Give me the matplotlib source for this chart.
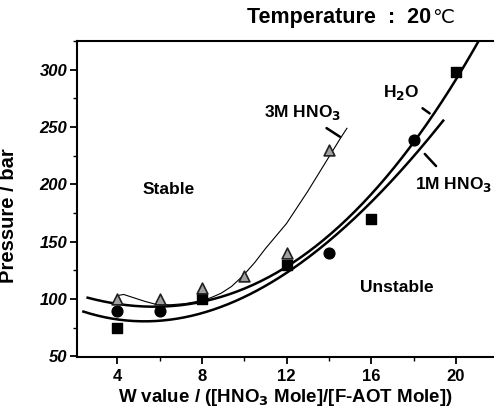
import numpy as np
import matplotlib
matplotlib.use("Agg")
import matplotlib.pyplot as plt
from matplotlib.ticker import MultipleLocator

plt.rcParams['font.family'] = ['Liberation Sans', 'DejaVu Sans']
plt.rcParams['mathtext.default'] = 'bf'

# measured data
w_h2o = [4, 8, 12, 16, 20]
p_h2o = [75, 100, 130, 170, 298]
w_1m = [4, 6, 14, 18]
p_1m = [90, 90, 140, 239]
w_3m = [4, 6, 8, 10, 12, 14]
p_3m = [100, 100, 110, 120, 140, 230]

# curves
cx_h2o = [2.6, 4, 6, 8, 10, 12, 14, 15.2, 18, 20, 21.1]
cy_h2o = [101, 96, 93, 98, 110, 128, 155, 174, 239, 292, 325]
cx_1m = [2.4, 4, 5.5, 8, 10, 12, 14, 15.2, 18, 19.4]
cy_1m = [89, 82, 80.5, 89, 102, 122, 148, 172, 227, 254]
cx_3m = [4, 4.3, 4.8, 5.3, 5.8, 6.5, 7.2, 7.8, 8.4, 8.9, 9.4, 9.95, 10.5, 11, 11.5, 12, 12.5, 13, 13.5, 14, 14.5, 14.85]
cy_3m = [103, 104, 101, 98, 95.5, 95, 96, 98, 101, 105, 111, 120.5, 132, 144, 155, 166, 180, 194, 209, 224, 239, 249]

fig = plt.figure(figsize=(4.94, 4.16), dpi=100)
ax = fig.add_axes([0.156, 0.142, 0.844, 0.759])

for cx, cy in [(cx_h2o, cy_h2o), (cx_1m, cy_1m)]:
    c = np.polyfit(cx, cy, 3)
    xs = np.linspace(min(cx), max(cx), 200)
    ax.plot(xs, np.polyval(c, xs), color='black', lw=1.8)
ax.plot(cx_3m, cy_3m, color='black', lw=0.8)

ax.scatter(w_h2o, p_h2o, marker='s', s=55, color='black', zorder=3)
ax.scatter(w_1m, p_1m, marker='o', s=60, color='black', zorder=3)
ax.scatter(w_3m, p_3m, marker='^', s=60, facecolor='#a0a0a0', edgecolor='#202020', lw=1.2, zorder=4)

ax.set_xlim(2.1, 21.8)
ax.set_ylim(49.5, 325)
ax.xaxis.set_major_locator(MultipleLocator(4))
ax.xaxis.set_minor_locator(MultipleLocator(2))
ax.yaxis.set_major_locator(MultipleLocator(50))
ax.yaxis.set_minor_locator(MultipleLocator(25))
ax.set_xticks([4, 8, 12, 16, 20])
ax.tick_params(which='major', direction='out', length=5, width=1.3)
ax.tick_params(which='minor', direction='out', length=3, width=1.0)
ax.tick_params(axis='x', labelsize=12, pad=4)
ax.tick_params(axis='y', labelsize=12, pad=2)
for lab in ax.get_xticklabels():
    lab.set_fontweight('bold')
for lab in ax.get_yticklabels():
    lab.set_fontweight('bold')
    lab.set_fontstyle('italic')
ax.spines['right'].set_visible(False)
for s in ['left', 'bottom', 'top']:
    ax.spines[s].set_linewidth(1.5)

ax.set_xlabel('W value / ([HNO$_\\mathbf{3}$ Mole]/[F-AOT Mole])', fontsize=13.5, fontweight='bold', labelpad=2)
ax.set_ylabel('Pressure / bar', fontsize=14.5, fontweight='bold')
ax.yaxis.set_label_coords(-0.141, 0.446)

ax.text(6.43, 195.5, 'Stable', fontsize=12.5, fontweight='bold', ha='center', va='center')
ax.text(17.19, 110, 'Unstable', fontsize=12.5, fontweight='bold', ha='center', va='center')
ax.annotate('3M HNO$_3$', xy=(14.52, 241.6), xytext=(12.77, 262.5), fontsize=12.5, fontweight='bold',
            ha='center', va='center', arrowprops=dict(arrowstyle='-', lw=1.8, color='black', shrinkA=4, shrinkB=0))
ax.annotate('H$_2$O', xy=(18.76, 262), xytext=(17.4, 280), fontsize=12.5, fontweight='bold',
            ha='center', va='center', arrowprops=dict(arrowstyle='-', lw=1.8, color='black', shrinkA=4, shrinkB=0))
ax.annotate('1M HNO$_3$', xy=(18.53, 226.6), xytext=(19.87, 200), fontsize=12.5, fontweight='bold',
            ha='center', va='center', arrowprops=dict(arrowstyle='-', lw=1.8, color='black', shrinkA=6, shrinkB=0))

fig.text(0.872, 0.959, 'Temperature  :  20', fontsize=15.5, fontweight='bold', ha='right', va='center')
fig.text(0.874, 0.959, '\u2103', fontsize=14, fontweight='normal', ha='left', va='center',
         family=['DejaVu Sans'])

fig.savefig('out.png', dpi=100)
